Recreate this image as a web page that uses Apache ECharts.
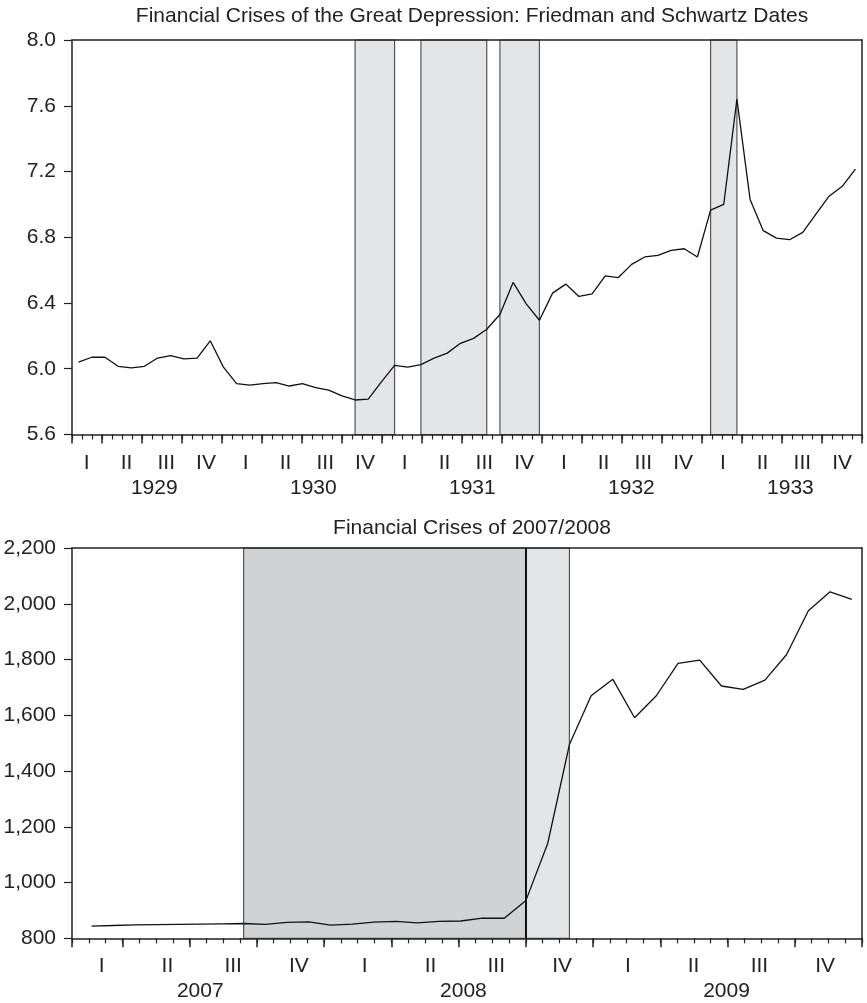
<!DOCTYPE html>
<html><head><meta charset="utf-8">
<script src="https://cdn.jsdelivr.net/npm/echarts@6/dist/echarts.min.js"></script>
<style>html,body{margin:0;padding:0;background:#fff}#c{width:867px;height:1003px}</style>
</head><body><div id="c"></div>
<script>
// ---------- data ----------
const title1 = 'Financial Crises of the Great Depression: Friedman and Schwartz Dates';
const title2 = 'Financial Crises of 2007/2008';
const quarterLabels = ['I', 'II', 'III', 'IV'];
const years1 = ['1929', '1930', '1931', '1932', '1933'];
const years2 = ['2007', '2008', '2009'];
const monthNums = ['01','02','03','04','05','06','07','08','09','10','11','12'];

// monthly values, Jan 1929 .. Dec 1933
const values1 = [
  6.04, 6.07, 6.07, 6.015, 6.005, 6.015, 6.065, 6.08, 6.06, 6.065, 6.17, 6.01,
  5.91, 5.90, 5.91, 5.915, 5.895, 5.91, 5.885, 5.87, 5.835, 5.81, 5.815, 5.92,
  6.02, 6.01, 6.025, 6.065, 6.095, 6.155, 6.185, 6.24, 6.33, 6.525, 6.395, 6.295,
  6.46, 6.515, 6.44, 6.455, 6.565, 6.555, 6.635, 6.68, 6.69, 6.72, 6.73, 6.68,
  6.965, 7.00, 7.64, 7.03, 6.84, 6.795, 6.785, 6.83, 6.94, 7.05, 7.11, 7.215
];
// monthly values, Jan 2007 .. Dec 2009
const values2 = [
  844, 846, 848, 849, 850, 851, 852, 853, 850, 857, 859, 847,
  851, 858, 861, 855, 861, 862, 872, 872, 936, 1140, 1495, 1670,
  1729, 1591, 1670, 1786, 1798, 1705, 1693, 1726, 1818, 1975, 2043, 2016
];
// crisis periods (start month, end month)
const crises1 = [['1930-10', '1931-01'], ['1931-03', '1931-08'], ['1931-09', '1931-12'], ['1933-01', '1933-03']];
const crises2 = [['2007-08', '2008-09'], ['2008-09', '2008-11']];

// ---------- helpers ----------
const months1 = [];
years1.forEach(y => monthNums.forEach(m => months1.push(y + '-' + m)));
const months2 = [];
years2.forEach(y => monthNums.forEach(m => months2.push(y + '-' + m)));

const TXT = '#222';
const FONT = 'Liberation Sans, Arial, Helvetica, sans-serif';
const FS = 21;

function frameAxes(gi) {
  return {
    x: { gridIndex: gi, type: 'value', position: 'top', offset: 0, min: 0, max: 1, z: 6,
         axisLine: { show: true, onZero: false, lineStyle: { color: '#222', width: 1.5 } },
         axisTick: { show: false }, axisLabel: { show: false }, splitLine: { show: false } },
    y: { gridIndex: gi, type: 'value', position: 'right', offset: 0, min: 0, max: 1, z: 6,
         axisLine: { show: true, onZero: false, lineStyle: { color: '#222', width: 1.5 } },
         axisTick: { show: false }, axisLabel: { show: false }, splitLine: { show: false } }
  };
}

function xAxesFor(gi, dataMin, dataMax, tickMax, labMin, labMax, nQuarters, yearPos, years, qMargin, yMargin) {
  const majors = [-0.75];
  for (let k = 0; k <= tickMax; k++) majors.push(k);
  const qPos = [];
  for (let k = 0; k < nQuarters; k++) qPos.push(k + 0.5);
  const base = { gridIndex: gi, type: 'value', position: 'bottom', offset: 0, splitLine: { show: false } };
  return [
    // data axis
    Object.assign({}, base, { min: dataMin, max: dataMax, z: 6,
      axisLine: { show: true, onZero: false, lineStyle: { color: '#222', width: 1.5 } },
      axisTick: { show: false }, axisLabel: { show: false } }),
    // minor ticks
    Object.assign({}, base, { min: -0.75, max: tickMax, interval: 0.25,
      axisLine: { show: false, onZero: false },
      axisTick: { show: true, length: 5, lineStyle: { color: '#222', width: 1.2 } },
      axisLabel: { show: false } }),
    // major ticks
    Object.assign({}, base, { min: -0.75, max: tickMax,
      axisLine: { show: false, onZero: false },
      axisTick: { show: true, length: 9, customValues: majors, lineStyle: { color: '#222', width: 1.5 } },
      axisLabel: { show: false, customValues: majors } }),
    // quarter labels
    Object.assign({}, base, { min: labMin, max: labMax,
      axisLine: { show: false, onZero: false }, axisTick: { show: false },
      axisLabel: { show: true, customValues: qPos, margin: qMargin, color: TXT, fontSize: FS, fontFamily: FONT,
        formatter: v => quarterLabels[Math.floor(v) % 4] } }),
    // year labels
    Object.assign({}, base, { min: labMin, max: labMax,
      axisLine: { show: false, onZero: false }, axisTick: { show: false },
      axisLabel: { show: true, customValues: yearPos, margin: yMargin, color: TXT, fontSize: FS, fontFamily: FONT,
        formatter: v => years[yearPos.indexOf(v)] } })
  ];
}

const f1 = frameAxes(0), f2 = frameAxes(1);
const yearPos1 = years1.map((_, k) => 2.2 + 4 * k);
const yearPos2 = years2.map((_, k) => 2 + 4 * k);

const xAxes = []
  .concat(xAxesFor(0, -0.5, 59.5, 19, 0.13, 20, 20, yearPos1, years1, 18, 43))
  .concat([f1.x])
  .concat(xAxesFor(1, -0.9, 35.47, 11, 0.05, 12.06, 12, yearPos2, years2, 17, 42))
  .concat([f2.x]);
// indices: grid0 data=0, grid1 data=6

const yAxes = [
  { gridIndex: 0, type: 'value', position: 'left', offset: 0, min: 5.6, max: 8.0, interval: 0.4, z: 6,
    axisLine: { show: true, onZero: false, lineStyle: { color: '#222', width: 1.5 } },
    axisTick: { show: true, length: 8, lineStyle: { color: '#222', width: 1.2 } },
    axisLabel: { margin: 16, color: TXT, fontSize: FS, fontFamily: FONT, formatter: v => v.toFixed(1) },
    splitLine: { show: false } },
  f1.y,
  { gridIndex: 1, type: 'value', position: 'left', offset: 0, min: 800, max: 2200, interval: 200, z: 6,
    axisLine: { show: true, onZero: false, lineStyle: { color: '#222', width: 1.5 } },
    axisTick: { show: true, length: 8, lineStyle: { color: '#222', width: 1.2 } },
    axisLabel: { margin: 16, color: TXT, fontSize: FS, fontFamily: FONT, formatter: v => v.toLocaleString('en-US') },
    splitLine: { show: false } },
  f2.y
];

function areas(crises, months, colors) {
  return crises.map((c, i) => [
    { xAxis: months.indexOf(c[0]), itemStyle: { color: colors[i], borderColor: '#555', borderWidth: 1.2 } },
    { xAxis: months.indexOf(c[1]) }
  ]);
}

const option = {
  animation: false,
  backgroundColor: '#fff',
  title: [
    { text: title1, left: 467, top: 1, textAlign: 'center',
      textStyle: { color: TXT, fontSize: FS, fontWeight: 'normal', fontFamily: FONT } },
    { text: title2, left: 467, top: 513, textAlign: 'center',
      textStyle: { color: TXT, fontSize: FS, fontWeight: 'normal', fontFamily: FONT } }
  ],
  grid: [
    { left: 72, top: 40, width: 790, height: 394.5, containLabel: false },
    { left: 72, top: 548, width: 790, height: 390.3, containLabel: false }
  ],
  xAxis: xAxes,
  yAxis: yAxes,
  series: [
    { type: 'line', xAxisIndex: 0, yAxisIndex: 0, z: 3, symbol: 'none', silent: true,
      data: values1.map((v, i) => [i, v]),
      lineStyle: { color: '#111', width: 1.3 },
      markArea: { silent: true, data: areas(crises1, months1, ['#e4e5e7', '#e4e5e7', '#e4e5e7', '#e4e5e7']) } },
    { type: 'line', xAxisIndex: 6, yAxisIndex: 2, z: 3, symbol: 'none', silent: true,
      data: values2.map((v, i) => [i, v]),
      lineStyle: { color: '#111', width: 1.3 },
      markArea: { silent: true, data: areas(crises2, months2, ['#d1d2d4', '#e4e5e7']) },
      markLine: { silent: true, symbol: 'none', label: { show: false },
        lineStyle: { color: '#111', width: 2, type: 'solid' },
        data: [{ xAxis: months2.indexOf(crises2[0][1]) }] } }
  ]
};

const chart = echarts.init(document.getElementById('c'), null, { renderer: 'canvas' });
chart.setOption(option);
</script>
</body></html>
